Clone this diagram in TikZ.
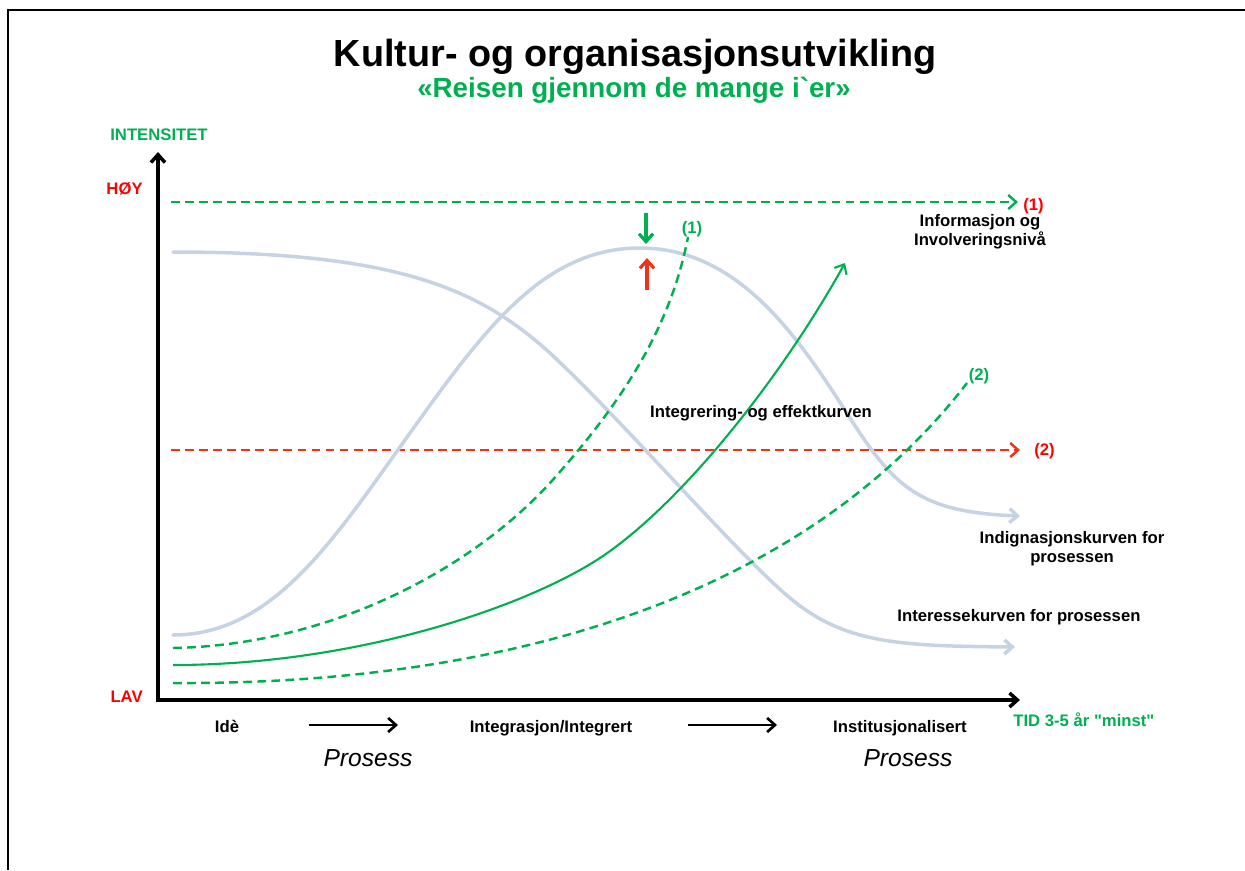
\documentclass[tikz,border=0pt]{standalone}
\usepackage{fontspec}
\newfontfamily\arial{Liberation Sans}
\usetikzlibrary{arrows.meta}

\definecolor{okgreen}{RGB}{0,176,80}
\definecolor{warnred}{RGB}{240,50,25}
\definecolor{curveblue}{RGB}{198,211,229}

\tikzset{
    lbl/.style={font=\arial\bfseries\fontsize{9.5}{10.8}\selectfont, inner sep=0pt, align=center},
    axis/.style={line width=2pt, black},
    bluecurve/.style={line width=2pt, curveblue, line cap=round},
    greendash/.style={line width=1.4pt, okgreen, dash pattern=on 5pt off 3pt},
    reddash/.style={line width=1.4pt, warnred, dash pattern=on 5pt off 3pt},
}

\begin{document}
\begin{tikzpicture}[x=0.02cm, y=-0.02cm, >={Straight Barb[length=4.5pt,width=8pt]}]
    \useasboundingbox (0,0) rectangle (1245,870);

    % Frame
    \draw[line width=1.6pt] (1245,10) -- (8,10) -- (8,870);

    % Title
    \node[anchor=base, inner sep=0pt, font=\arial\bfseries\fontsize{21.5}{26}\selectfont] (title) at (635,66) {Kultur- og organisasjonsutvikling};
    \node[anchor=base, inner sep=0pt, text=okgreen, font=\arial\bfseries\fontsize{15.8}{19}\selectfont] (subtitle) at (634,97) {«Reisen gjennom de mange i`er»};

    % Axes
    \coordinate (o) at (158,700);
    \coordinate (ytop) at (158,152);
    \coordinate (xend) at (1020,700);
    \draw[axis, <->] (ytop) -- (o) -- (xend);

    \node[lbl, text=okgreen, anchor=base] (intens) at (159,140) {INTENSITET};
    \node[lbl, text=red, anchor=base east] (hoy) at (143,194) {HØY};
    \node[lbl, text=red, anchor=base east] (lav) at (143,702) {LAV};
    \node[lbl, text=okgreen, anchor=base west] (tid) at (1013,726) {TID 3-5 år "minst"};

    % Levels (1) and (2)
    \coordinate (g1) at (171,202);
    \coordinate (g1e) at (1018,202);
    \coordinate (r2) at (171,450);
    \coordinate (r2e) at (1020,450);
    \draw[greendash, ->] (g1) -- (g1e);
    \draw[reddash, ->] (r2) -- (r2e);
    \node[lbl, text=red, anchor=base west] (lvl1) at (1023,210) {(1)};
    \node[lbl, text=red, anchor=base west] (lvl2) at (1034,455) {(2)};

    % Curves
    \draw[bluecurve, ->] (173,635) .. controls (270,635) and (330,545) .. (400,447)
        .. controls (480,335) and (540,248) .. (640,248)
        .. controls (740,248) and (800,340) .. (850,418)
        .. controls (895,488) and (920,512) .. (1020,516);
    \draw[bluecurve, ->] (173,252) .. controls (400,252) and (480,290) .. (550,353)
        .. controls (630,428) and (735,552) .. (790,598)
        .. controls (845,644) and (900,646) .. (1015,647);
    \draw[line width=1.2pt, okgreen, ->] (173,665) .. controls (350,665) and (520,610) .. (600,558)
        .. controls (680,505) and (780,380) .. (845,263);
    \draw[greendash] (173,648) .. controls (330,645) and (470,570) .. (550,483)
        .. controls (620,405) and (670,330) .. (688,237);
    \draw[greendash] (173,683) .. controls (500,685) and (800,600) .. (967,383);
    \node[lbl, text=okgreen, anchor=base] (c1) at (692,233) {(1)};
    \node[lbl, text=okgreen, anchor=base] (c2) at (979,380) {(2)};

    % Peak markers
    \coordinate (dn) at (646,213);
    \coordinate (dne) at (646,244);
    \coordinate (up) at (647,290);
    \coordinate (upe) at (647,258);
    \draw[line width=1.8pt, okgreen, ->] (dn) -- (dne);
    \draw[line width=1.8pt, warnred, ->] (up) -- (upe);

    % Curve labels
    \node[lbl, anchor=base] (info) at (980,245) {Informasjon og\\Involveringsnivå};
    \node[lbl, anchor=base] (integ) at (761,417) {Integrering- og effektkurven};
    \node[lbl, anchor=base] (indig) at (1072,562) {Indignasjonskurven for\\prosessen};
    \node[lbl, anchor=base] (inter) at (1019,621) {Interessekurven for prosessen};

    % Stages along the time axis
    \foreach \n/\x/\t in {idee/227/Idè, integr/551/{Integrasjon/Integrert}, inst/900/Institusjonalisert}
        \node[lbl, anchor=base] (\n) at (\x,732) {\t};
    \coordinate (a1) at (309,725);
    \coordinate (a1e) at (398,725);
    \coordinate (a2) at (688,725);
    \coordinate (a2e) at (777,725);
    \draw[line width=1.5pt, ->] (a1) -- (a1e);
    \draw[line width=1.5pt, ->] (a2) -- (a2e);
    \node[anchor=base, inner sep=0pt, font=\arial\itshape\fontsize{14}{16}\selectfont] (pros1) at (368,766) {Prosess};
    \node[anchor=base, inner sep=0pt, font=\arial\itshape\fontsize{14}{16}\selectfont] (pros2) at (908,766) {Prosess};
\end{tikzpicture}
\end{document}
